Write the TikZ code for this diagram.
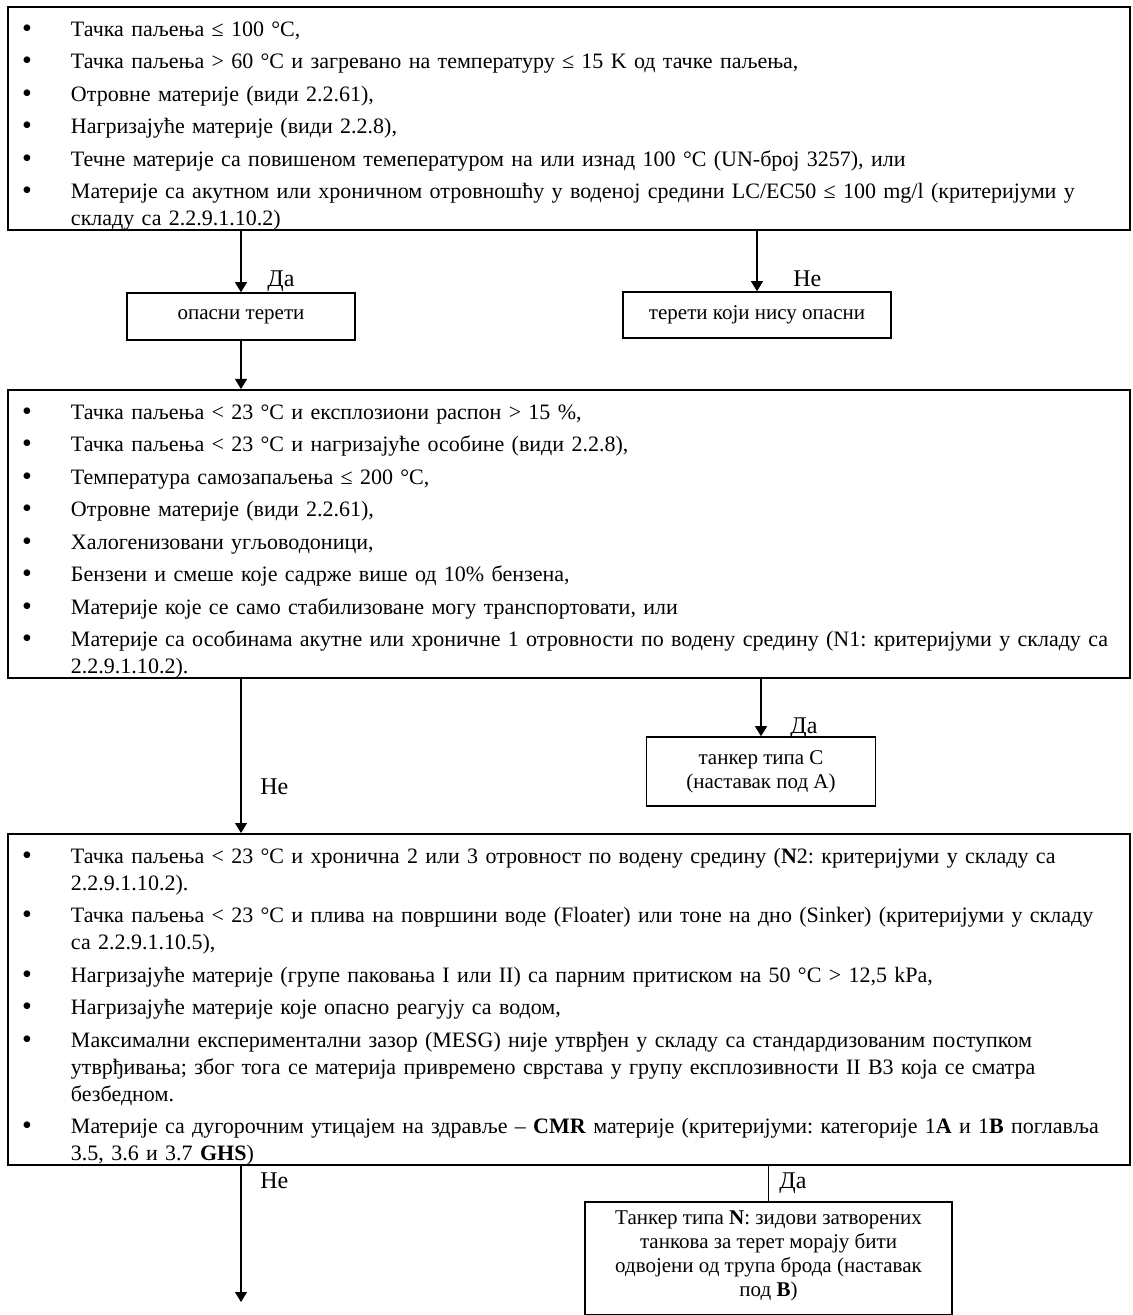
\documentclass[tikz,border=0pt]{standalone}
\usepackage{fontspec}
\setmainfont{Liberation Serif}
\usetikzlibrary{arrows.meta}
\usetikzlibrary{positioning}

\newenvironment{critlist}{%
  \begin{list}{\raisebox{-0.6pt}{\fontsize{14}{14}\selectfont\textbullet}}{%
    \setlength{\leftmargin}{31.5pt}%
    \setlength{\rightmargin}{4.5pt}%
    \setlength{\labelwidth}{12pt}%
    \setlength{\labelsep}{19.5pt}%
    \setlength{\itemsep}{2.75pt}%
    \setlength{\parsep}{0pt}%
    \setlength{\topsep}{0pt}%
    \setlength{\partopsep}{0pt}}%
  \frenchspacing\hyphenpenalty=10000 \exhyphenpenalty=10000 \tolerance=9999}%
 {\end{list}}
\newcommand{\critfirst}{\rule{0pt}{13.6pt}}
\newcommand{\critlast}{\rule[-2pt]{0pt}{2pt}}

\begin{document}
\begin{tikzpicture}[x=0.5pt, y=-0.5pt,
      critbox/.style={rectangle, draw, line width=1pt, inner xsep=0pt, inner ysep=0pt, text width=561pt, font=\fontsize{11}{13.5}\selectfont},
      resbox/.style={rectangle, draw, line width=0.8pt, align=center, inner sep=0pt, font=\fontsize{10.5}{12}\selectfont},
      arrow/.style={-{Triangle[length=5pt,width=6pt]}, line width=0.6pt},
      link/.style={line width=0.6pt},
      answer/.style={inner sep=0pt, anchor=base west, font=\fontsize{12}{14}\selectfont}
      ]
      \useasboundingbox (0,0) rectangle (1132,1315);

      % Criteria
      \node[critbox, anchor=north west] (crit1) at (7,6) {\begin{critlist}
        \item \critfirst Тачка паљења ≤ 100 °C,
        \item Тачка паљења > 60 °C и загревано на температуру ≤ 15 K од тачке паљења,
        \item Отровне материје (види 2.2.61),
        \item Нагризајуће материје (види 2.2.8),
        \item Течне материје са повишеном темепературом на или изнад 100 °C (UN-број 3257), или
        \item Материје са акутном или хроничном отровношћу у воденој средини LC/EC50 ≤ 100 mg/l (критеријуми у\linebreak складу са 2.2.9.1.10.2)\critlast
      \end{critlist}};

      \node[critbox, anchor=north west] (crit2) at (7,389) {\begin{critlist}
        \item \critfirst Тачка паљења < 23 °C и експлозиони распон > 15 \%,
        \item Тачка паљења < 23 °C и нагризајуће особине (види 2.2.8),
        \item Температура самозапаљења ≤ 200 °C,
        \item Отровне материје (види 2.2.61),
        \item Халогенизовани угљоводоници,
        \item Бензени и смеше које садрже више од 10\% бензена,
        \item Материје које се само стабилизоване могу транспортовати, или
        \item Материје са особинама акутне или хроничне 1 отровности по водену средину (N1: критеријуми у складу са\linebreak 2.2.9.1.10.2).\critlast
      \end{critlist}};

      \node[critbox, anchor=north west] (crit3) at (7,833) {\begin{critlist}
        \item \critfirst Тачка паљења < 23 °C и хронична 2 или 3 отровност по водену средину (\textbf{N}2: критеријуми у складу са\linebreak 2.2.9.1.10.2).
        \item Тачка паљења < 23 °C и плива на површини воде (Floater) или тоне на дно (Sinker) (критеријуми у складу\linebreak са 2.2.9.1.10.5),
        \item Нагризајуће материје (групе паковања I или II) са парним притиском на 50 °C > 12,5 kPa,
        \item Нагризајуће материје које опасно реагују са водом,
        \item Максимални експериментални зазор (MESG) није утврђен у складу са стандардизованим поступком\linebreak утврђивања; због тога се материја привремено сврстава у групу експлозивности II B3 која се сматра\linebreak безбедном.
        \item Материје са дугорочним утицајем на здравље -- \textbf{CMR} материје (критеријуми: категорије 1\textbf{A} и 1\textbf{B} поглавља\linebreak 3.5, 3.6 и 3.7 \textbf{GHS})\critlast
      \end{critlist}};

      % Results
      \node[resbox, minimum width=114pt, minimum height=23.5pt] (danger) at (241,316.5) {опасни терети};
      \node[resbox, minimum width=134pt, minimum height=23pt] (safe) at (757,315) {терети који нису опасни};
      \node[resbox, minimum width=114.5pt, minimum height=34.5pt] (tankC) at (761,771.5) {танкер типа C\\(наставак под А)};
      \node[resbox, minimum width=183.5pt, inner ysep=4.4pt, anchor=north] (tankN) at (768.5,1201) {Танкер типа \textbf{N}: зидови затворених\\танкова за терет морају бити\\одвојени од трупа брода (наставак\\под \textbf{B})\rule[-4.6pt]{0pt}{4.6pt}};
      \coordinate (next) at (241,1302);

      % Arrows
      \draw[arrow] (crit1.south -| danger.north) -- (danger.north);
      \draw[arrow] (crit1.south -| safe.north) -- (safe.north);
      \draw[arrow] (danger.south) -- (crit2.north -| danger.south);
      \draw[arrow] (crit2.south -| tankC.north) -- (tankC.north);
      \draw[arrow] (crit2.south -| danger.south) -- (crit3.north -| danger.south);
      \draw[arrow] (crit3.south -| next) -- (next);
      \draw[link] (crit3.south -| tankN.north) -- (tankN.north);

      % Answers
      \node[answer] (yes1) at (267,287) {Да};
      \node[answer] (no1) at (793,287) {Не};
      \node[answer] (yes2) at (790,733) {Да};
      \node[answer] (no2) at (260,794) {Не};
      \node[answer] (no3) at (260,1188) {Не};
      \node[answer] (yes3) at (779,1188) {Да};

    \end{tikzpicture}
\end{document}
